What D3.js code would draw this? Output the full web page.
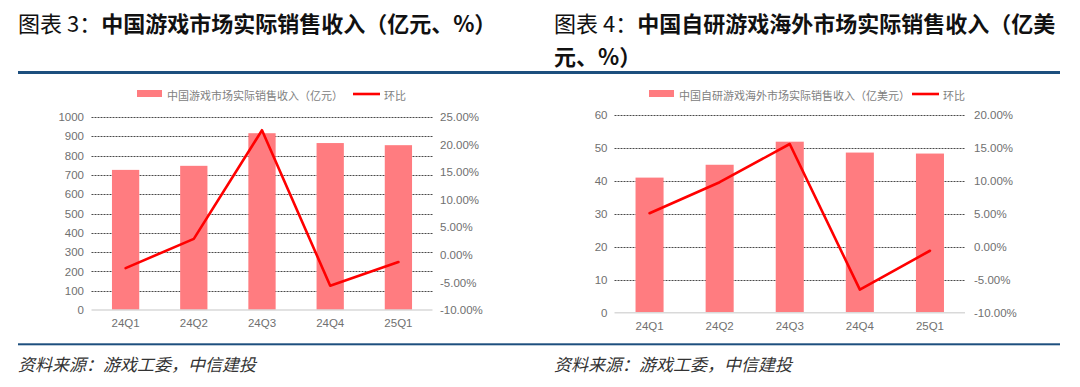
<!DOCTYPE html>
<html>
<head>
<meta charset="utf-8">
<script src="https://cdn.jsdelivr.net/npm/d3@7"></script>
<style>
  body { margin: 0; background: #fff; }
  svg { display: block; }
  text { font-family: "Liberation Sans", Arial, "Noto Sans CJK SC", sans-serif; }
  .cjk { font-family: "Noto Sans CJK SC", sans-serif; }
</style>
</head>
<body>
<div id="chart"></div>
<script>
// data
const quarters = ["24Q1", "24Q2", "24Q3", "24Q4", "25Q1"];
const domesticRevenue = [726, 747, 916, 865, 854];       // 亿元
const domesticQoQ = [-2.4, 2.9, 22.6, -5.6, -1.3];        // %
const overseasRevenue = [41.0, 44.9, 51.9, 48.6, 48.3];  // 亿美元
const overseasQoQ = [5.1, 9.8, 15.6, -6.5, -0.6];        // %

const domesticLeftTicks = d3.range(0, 1001, 100);
const domesticRightTicks = d3.range(-10, 26, 5);
const overseasLeftTicks = d3.range(0, 61, 10);
const overseasRightTicks = d3.range(-10, 21, 5);

const titles = [
  {lead: "图表 3：", rest: ["中国游戏市场实际销售收入（亿元、%）"]},
  {lead: "图表 4：", rest: ["中国自研游戏海外市场实际销售收入（亿美", "元、%）"]}
];
const barNames = ["中国游戏市场实际销售收入（亿元）", "中国自研游戏海外市场实际销售收入（亿美元）"];
const lineName = "环比";
const sourceText = "资料来源：游戏工委，中信建投";

const W = 1080, H = 387;
const barColor = "#ff7c80", lineColor = "#ff0000", ruleColor = "#1d4f7e", labelColor = "#707070";

var svg = d3.select("#chart").append("svg")
  .attr("width", W).attr("height", H);

// rules across the whole page
svg.append("rect").attr("x", 18).attr("y", 71).attr("width", 1042).attr("height", 3).attr("fill", ruleColor);
svg.append("rect").attr("x", 18).attr("y", 343.3).attr("width", 1042).attr("height", 2).attr("fill", ruleColor);

// titles
[18, 554].forEach((x, i) => {
  const t = titles[i];
  t.rest.forEach((line, j) => {
    const txt = svg.append("text").attr("class", "cjk")
      .attr("x", x).attr("y", 22 + j * 33)
      .attr("dominant-baseline", "central")
      .attr("font-size", 22).attr("fill", "#111");
    if (j === 0) {
      txt.append("tspan").attr("font-weight", 400).text(t.lead);
    }
    txt.append("tspan").attr("font-weight", 700).text(line);
  });
  svg.append("text").attr("class", "cjk")
    .attr("x", x).attr("y", 363)
    .attr("dominant-baseline", "central")
    .attr("font-size", 17).attr("font-style", "italic")
    .attr("fill", "#333").text(sourceText);
});

function drawChart(cfg) {
  const g = svg.append("g");

  var x = d3.scaleBand().domain(quarters)
    .range([cfg.x0, cfg.x1]).paddingInner(0.6).paddingOuter(0.3);
  var y = d3.scaleLinear().domain(d3.extent(cfg.leftTicks)).range([cfg.yBottom, cfg.yTop]);
  var y2 = d3.scaleLinear().domain(d3.extent(cfg.rightTicks)).range([cfg.yBottom, cfg.yTop]);

  // dashed gridlines
  g.append("g").selectAll("line")
    .data(cfg.leftTicks.filter(d => d > 0))
    .enter().append("line")
    .attr("x1", cfg.x0).attr("x2", cfg.x1)
    .attr("y1", d => Math.round(y(d)) + 0.5).attr("y2", d => Math.round(y(d)) + 0.5)
    .attr("stroke", "#4a4a4a").attr("stroke-width", 1)
    .attr("stroke-dasharray", "2,1");

  // left axis
  var leftAxis = g.append("g")
    .attr("transform", "translate(" + cfg.leftLabelX + ",0)")
    .call(d3.axisLeft(y).tickValues(cfg.leftTicks).tickSize(0).tickPadding(0).tickFormat(d3.format("d")));
  leftAxis.select(".domain").remove();

  // right axis
  var rightAxis = g.append("g")
    .attr("transform", "translate(" + cfg.rightLabelX + ",0)")
    .call(d3.axisRight(y2).tickValues(cfg.rightTicks).tickSize(0).tickPadding(0)
      .tickFormat(d => d.toFixed(2) + "%"));
  rightAxis.select(".domain").remove();

  // bottom axis
  var bottomAxis = g.append("g")
    .attr("transform", "translate(0," + cfg.yBottom + ")")
    .call(d3.axisBottom(x).tickSize(0).tickPadding(9));
  bottomAxis.select(".domain").remove();

  g.selectAll(".tick text")
    .attr("font-family", "'Liberation Sans', Arial, sans-serif")
    .attr("font-size", 11.5).attr("fill", labelColor);

  // bars
  g.append("g").selectAll("rect")
    .data(cfg.bars)
    .enter().append("rect")
    .attr("x", (d, i) => x(quarters[i]))
    .attr("width", x.bandwidth())
    .attr("y", d => y(d))
    .attr("height", d => cfg.yBottom - y(d))
    .attr("fill", barColor);

  // baseline
  g.append("line")
    .attr("x1", cfg.x0).attr("x2", cfg.x1)
    .attr("y1", cfg.yBottom).attr("y2", cfg.yBottom)
    .attr("stroke", "#d9d9d9").attr("stroke-width", 1.5);

  // QoQ line
  var line = d3.line()
    .x((d, i) => x(quarters[i]) + x.bandwidth() / 2)
    .y(d => y2(d));
  g.append("path").datum(cfg.line)
    .attr("d", line)
    .attr("fill", "none")
    .attr("stroke", lineColor)
    .attr("stroke-width", 2.6)
    .attr("stroke-linejoin", "round")
    .attr("stroke-linecap", "round");

  // legend
  var lg = g.append("g");
  lg.append("rect")
    .attr("x", cfg.legendX).attr("y", 90).attr("width", 25).attr("height", 7)
    .attr("fill", barColor);
  lg.append("text").attr("class", "cjk")
    .attr("x", cfg.legendX + 30).attr("y", 95)
    .attr("dominant-baseline", "central")
    .attr("font-size", 11).attr("fill", "#808080")
    .text(cfg.barName);
  lg.append("line")
    .attr("x1", cfg.lineX).attr("x2", cfg.lineX + 27)
    .attr("y1", 94).attr("y2", 94)
    .attr("stroke", lineColor).attr("stroke-width", 2.6);
  lg.append("text").attr("class", "cjk")
    .attr("x", cfg.lineX + 31).attr("y", 95)
    .attr("dominant-baseline", "central")
    .attr("font-size", 11).attr("fill", "#808080")
    .text(lineName);
}

drawChart({
  bars: domesticRevenue, line: domesticQoQ,
  leftTicks: domesticLeftTicks, rightTicks: domesticRightTicks,
  x0: 91.5, x1: 432.5, yTop: 117, yBottom: 310,
  leftLabelX: 84, rightLabelX: 440,
  legendX: 137, lineX: 353, barName: barNames[0]
});

drawChart({
  bars: overseasRevenue, line: overseasQoQ,
  leftTicks: overseasLeftTicks, rightTicks: overseasRightTicks,
  x0: 614.5, x1: 965, yTop: 115, yBottom: 312.7,
  leftLabelX: 607.5, rightLabelX: 974,
  legendX: 649, lineX: 912, barName: barNames[1]
});
</script>
</body>
</html>
